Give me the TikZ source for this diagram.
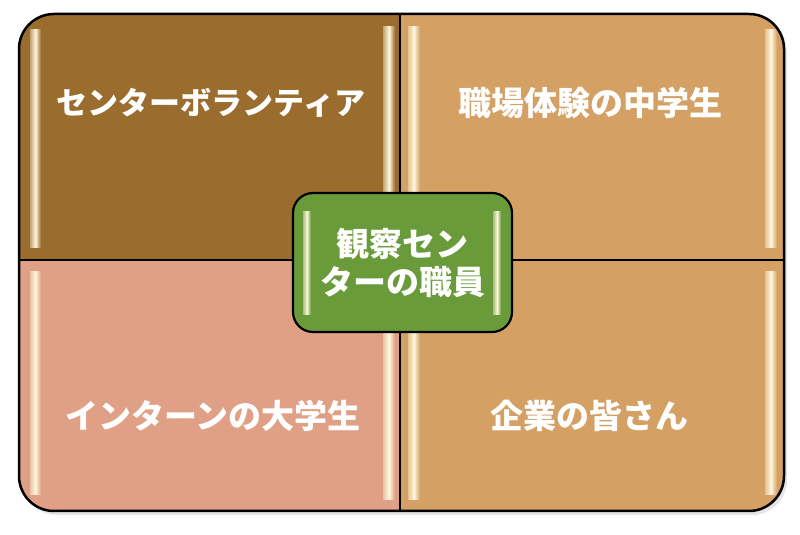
\documentclass[tikz,border=0pt]{standalone}
\usepackage{fontspec}
\newfontfamily\jpfont{Noto Sans CJK JP}
\usetikzlibrary{positioning}
\definecolor{volbrown}{HTML}{9A6C2D}
\definecolor{pupiltan}{HTML}{D4A064}
\definecolor{internpink}{HTML}{E0A085}
\definecolor{firmtan}{HTML}{D4A064}
\definecolor{staffgreen}{HTML}{6A9B3A}
\definecolor{shine}{HTML}{FFF6DC}

\begin{document}
\begin{tikzpicture}[x=1pt,y=1pt,
                quad/.style={text=white,font=\jpfont\bfseries\fontsize{33}{38}\selectfont},
                gloss/.style={left color=#1!60!shine,right color=#1,middle color=shine}]
        \useasboundingbox (0,0) rectangle (800,535);
        %----------------  背景  ----------------
        \fill[black!10,rounded corners=35pt] (22,20) rectangle (787,518);
        \begin{scope}
        \clip[rounded corners=35pt] (19,24) rectangle (784,521);
        \fill[volbrown]   (19,275)  rectangle (400,521);
        \fill[pupiltan]   (400,275) rectangle (784,521);
        \fill[internpink] (19,24)   rectangle (400,275);
        \fill[firmtan]    (400,24)  rectangle (784,275);
        % 光沢
        \shade[gloss=volbrown]   (30,287)  rectangle (41,505);
        \shade[gloss=volbrown]   (383,287) rectangle (395,508);
        \shade[gloss=pupiltan]   (408,287) rectangle (420,508);
        \shade[gloss=pupiltan]   (765,287) rectangle (777,505);
        \shade[gloss=internpink] (30,40)   rectangle (41,263);
        \shade[gloss=internpink] (383,35)  rectangle (395,263);
        \shade[gloss=firmtan]    (408,35)  rectangle (420,263);
        \shade[gloss=firmtan]    (765,40)  rectangle (777,263);
        \end{scope}
        \draw[line width=2pt] (400,24) -- (400,521);
        \draw[line width=2pt] (19,275) -- (784,275);
        \draw[line width=2.5pt,rounded corners=35pt] (19,24) rectangle (784,521);

        %----------------  文字  ----------------
        \node[quad,font=\jpfont\bfseries\fontsize{31}{36}\selectfont] (vol) at (211,432) {センターボランティア};
        \node[quad] (pupil)  at (590,432) {職場体験の中学生};
        \node[quad] (intern) at (213,119) {インターンの大学生};
        \node[quad] (firm)   at (589,119) {企業の皆さん};

        %----------------  中央  ----------------
        \node[draw,line width=2.2pt,fill=staffgreen,rounded corners=20pt,
              minimum width=219pt,minimum height=139pt] (staff) at (402.5,272.5) {};
        \shade[gloss=staffgreen] ([xshift=11pt,yshift=-20pt]staff.north west)
              rectangle ([xshift=19pt,yshift=19pt]staff.south west);
        \shade[gloss=staffgreen] ([xshift=-20pt,yshift=-20pt]staff.north east)
              rectangle ([xshift=-12pt,yshift=19pt]staff.south east);
        \node[quad,align=center] (staffname) at (staff.center) {観察セン\\ターの職員};
        \end{tikzpicture}
\end{document}
